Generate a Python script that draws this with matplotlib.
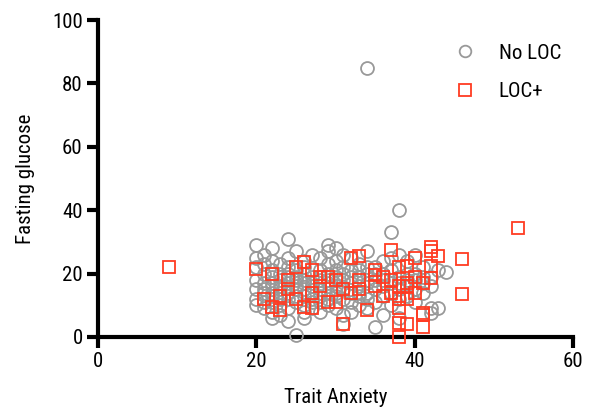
import matplotlib
matplotlib.use("Agg")
import matplotlib.pyplot as plt
from matplotlib import font_manager

# Trait anxiety score vs fasting glucose, by loss-of-control (LOC) eating status
no_loc_x = [20, 20, 20, 20, 20, 20, 20,
            21, 21, 21, 21, 21, 21, 21, 21,
            22, 22, 22, 22, 22, 22, 22, 22, 22, 22, 22,
            23, 23, 23, 23, 23, 23, 23, 23, 23,
            24, 24, 24, 24, 24, 24, 24, 24, 24, 24,
            25, 25, 25, 25, 25, 25, 25, 25, 25,
            26, 26, 26, 26, 26, 26, 26, 26, 26, 26,
            27, 27, 27, 27, 27, 27, 27, 27,
            28, 28, 28, 28, 28, 28, 28, 28, 28,
            29, 29, 29, 29, 29, 29, 29, 29, 29,
            30, 30, 30, 30, 30, 30, 30, 30,
            31, 31, 31, 31, 31, 31, 31, 31,
            32, 32, 32, 32, 32, 32, 32,
            33, 33, 33, 33, 33, 33, 33,
            34, 34, 34, 34, 34, 34, 34, 34,
            35, 35, 35, 35, 35, 35,
            36, 36, 36, 36, 36, 36,
            37, 37, 37, 37, 37, 37,
            38, 38, 38, 38, 38, 38, 38,
            39, 39, 39, 39, 39,
            40, 40, 40, 40, 40,
            41, 41, 41, 41,
            42, 42, 42, 42,
            43, 43,
            44]
no_loc_y = [29, 25, 22, 18, 15, 12, 10,
            26, 23, 20, 17, 15, 14, 11, 9,
            28, 24, 21, 19, 17, 16, 14, 13, 11, 8, 6,
            23, 20, 18, 16, 15, 13, 12, 10, 7,
            31, 25, 22, 20, 19, 17, 14, 12, 9, 5,
            27, 21, 19, 18, 16, 15, 13, 11, 0.5,
            24, 22, 20, 18, 17, 15, 13, 10, 8, 6,
            26, 19, 17, 16, 14, 12, 11, 9,
            25, 21, 19, 18, 15, 14, 13, 11, 8,
            29, 27, 23, 20, 18, 17, 14, 12, 10,
            28, 24, 21, 19, 16, 14, 13, 9,
            26, 22, 20, 18, 15, 12, 7, 4,
            25, 21, 19, 17, 14, 11, 8,
            23, 21, 19, 16, 14, 13, 10,
            85, 27, 22, 20, 17, 14, 12, 9,
            22, 20, 18, 15, 11, 3,
            24, 20, 18, 16, 13, 7,
            33, 25, 21, 17, 14, 10,
            40, 26, 19, 17, 15, 12, 6,
            24, 20, 18, 16, 13,
            26, 20, 18, 15, 11,
            22, 19, 17, 14,
            19, 16, 7.5, 9,
            21, 9,
            20.5]

loc_x = [9, 53, 46, 46, 42, 43, 41, 41, 39, 38, 31, 20, 33, 37, 38, 33, 35, 37,
         34, 38, 38, 33, 39, 40, 42, 42, 39, 40, 25, 22, 23, 22, 26, 27, 29, 30,
         26, 27, 30, 32, 32, 29, 35, 35, 36, 38, 39, 41, 42, 38, 39, 41, 28, 25,
         27, 21, 24, 28, 31, 36, 40, 37, 24, 23]
loc_y = [22, 34.5, 24.5, 13.5, 28.5, 25.5, 7.5, 3, 4, 0, 4, 21.5, 25.5, 27.5, 22,
         18, 19.5, 18, 8.5, 9, 4.5, 15, 22.5, 19, 22.5, 18.5, 16, 14, 22, 20, 8.5,
         9.5, 23.5, 21, 19, 18, 9.5, 9, 11, 14, 25, 11, 16, 21, 19, 16, 17, 17, 27,
         12, 12, 7, 19, 12, 14, 12, 15, 16, 15, 13, 25, 14, 18, 13]

x_ticks = [0, 20, 40, 60]
y_ticks = [0, 20, 40, 60, 80, 100]

available = {f.name for f in font_manager.fontManager.ttflist}
preferred = ["Roboto Condensed", "DejaVu Sans Condensed", "Liberation Sans Narrow",
             "Roboto", "DejaVu Sans"]
plt.rcParams["font.family"] = [f for f in preferred if f in available]
plt.rcParams["font.stretch"] = "condensed"

fig = plt.figure(figsize=(5.97, 4.18), dpi=100)
ax = fig.add_axes([0.164, 0.194, 0.796, 0.758])

gray = "#999999"
red = "#ff3b22"

ax.plot(no_loc_x, no_loc_y, linestyle="none", marker="o", markersize=9.3,
        markerfacecolor="none", markeredgecolor=gray, markeredgewidth=1.3,
        label="No LOC", clip_on=False, zorder=3)
ax.plot(loc_x, loc_y, linestyle="none", marker="s", markersize=9.0,
        markerfacecolor="none", markeredgecolor=red, markeredgewidth=1.3,
        label="LOC+", clip_on=False, zorder=4)

ax.set_xlim(0, 60)
ax.set_ylim(0, 100)
ax.set_xticks(x_ticks)
ax.set_yticks(y_ticks)

for side in ("top", "right"):
    ax.spines[side].set_visible(False)
for side in ("left", "bottom"):
    ax.spines[side].set_linewidth(3)
ax.tick_params(axis="both", which="major", length=8, width=3, labelsize=15,
               direction="out", pad=3)

ax.set_xlabel("Trait Anxiety", fontsize=15, labelpad=12)
ax.set_ylabel("Fasting glucose", fontsize=15, labelpad=12)

ax.legend(loc="upper left", bbox_to_anchor=(0.69, 0.985), frameon=False,
          fontsize=15, handletextpad=0.6, labelspacing=0.95, markerscale=0.9)

fig.savefig("out.png", dpi=100)
